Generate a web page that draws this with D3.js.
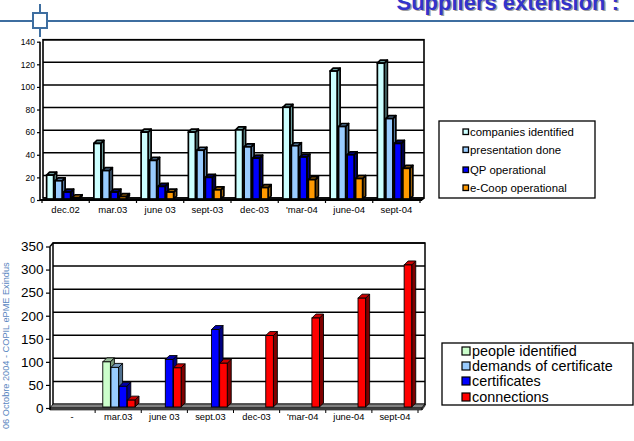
<!DOCTYPE html>
<html><head><meta charset="utf-8">
<script src="https://cdn.jsdelivr.net/npm/d3@7"></script>
<style>body{margin:0;background:#fff}svg{display:block}</style>
</head><body>
<script>
// ---------- DATA ----------
const topCategories = ["dec.02","mar.03","june 03","sept-03","dec-03","'mar-04","june-04","sept-04"];
const topSeriesNames = ["companies identified","presentation done","QP operational","e-Coop operational"];
const companiesIdentified = [22,50,60,60,62,82,114,121];
const presentationDone    = [17,26,35,44,47,48,65,72];
const qpOperational       = [7,7,12,20,37,38,40,50];
const eCoopOperational    = [2,3,7,9,11,18,19,28];
const topTicks = [0,20,40,60,80,100,120,140];

const botCategories = ["-","mar.03","june 03","sept.03","dec-03","'mar-04","june-04","sept-04"];
const botSeriesNames = ["people identified","demands of certificate","certificates","connections"];
const peopleIdentified     = [null,100,null,null,null,null,null,null];
const demandsOfCertificate = [null,88,null,null,null,null,null,null];
const certificates         = [null,47,105,170,null,null,null,null];
const connections          = [null,17,87,97,157,195,238,310];
const botTicks = [0,50,100,150,200,250,300,350];

const titleText = "Suppliers extension :";
const sideText = "06 Octobre 2004 - COPIL ePME Exindus";

// ---------- STYLE ----------
const FONT = "'Liberation Sans', Arial, sans-serif";
const topFront = ["#ccffff","#99ccff","#0000ff","#ff9900"];
const topSide  = ["#6a9a9a","#55779a","#00007a","#99600a"];
const botFront = ["#ccffcc","#99ccff","#0000ff","#ff0000"];
const botSide  = ["#7a9a7a","#50708f","#000080","#800000"];
const botTop   = ["#99bb99","#7799bb","#0000aa","#cc0000"];

const svg = d3.select("body").append("svg").attr("width",634).attr("height",441);

// ---------- HEADER ----------
svg.append("line").attr("x1",0).attr("x2",634).attr("y1",21).attr("y2",21)
  .attr("stroke","#3e6ea0").attr("stroke-width",2);
svg.append("line").attr("x1",40).attr("x2",40).attr("y1",4).attr("y2",37)
  .attr("stroke","#3e6ea0").attr("stroke-width",2);
svg.append("rect").attr("x",33).attr("y",13).attr("width",14).attr("height",15)
  .attr("fill","#fff").attr("stroke","#3e6ea0").attr("stroke-width",2);
svg.append("text").attr("x",619).attr("y",9.5).attr("text-anchor","end")
  .attr("font-family",FONT).attr("font-weight","bold").attr("font-size",22)
  .attr("fill","#a0a0a0").attr("transform","translate(1.5,1.5)").text(titleText);
svg.append("text").attr("x",619).attr("y",9.5).attr("text-anchor","end")
  .attr("font-family",FONT).attr("font-weight","bold").attr("font-size",22)
  .attr("fill","#3333cc").text(titleText);

// side text
svg.append("text").attr("transform","translate(8.5,429) rotate(-90)")
  .attr("font-family",FONT).attr("font-size",9.2).attr("fill","#5a86c0").text(sideText);

function bar3d(g, x, w, yT, yB, d, front, side, top, sw){
  g.append("polygon").attr("points",[[x+w,yT],[x+w+d,yT-d],[x+w+d,yB-d],[x+w,yB]].join(" "))
    .attr("fill",side).attr("stroke","#000").attr("stroke-width",sw).attr("stroke-linejoin","round");
  g.append("polygon").attr("points",[[x,yT],[x+d,yT-d],[x+w+d,yT-d],[x+w,yT]].join(" "))
    .attr("fill",top).attr("stroke","#000").attr("stroke-width",sw).attr("stroke-linejoin","round");
  g.append("rect").attr("x",x).attr("y",yT).attr("width",w).attr("height",Math.max(0,yB-yT))
    .attr("fill",front).attr("stroke","#000").attr("stroke-width",sw);
}

// ---------- TOP CHART ----------
{
  const g = svg.append("g");
  const y = d3.scaleLinear().domain([0,140]).range([200,41.7]);
  const x = d3.scaleBand().domain(topCategories).range([42,420]);
  const d = 3;
  g.append("rect").attr("x",43).attr("y",y(140)-2).attr("width",381).attr("height",y(0)-y(140))
    .attr("fill","#fff").attr("stroke","#000").attr("stroke-width",1.6);
  topTicks.forEach(t=>{
    g.append("line").attr("x1",43).attr("x2",424).attr("y1",y(t)-2).attr("y2",y(t)-2)
      .attr("stroke","#000").attr("stroke-width",1.5);
  });
  g.append("line").attr("x1",40).attr("x2",40).attr("y1",y(140)).attr("y2",y(0))
    .attr("stroke","#000").attr("stroke-width",1.6);
  const ax = g.append("g").attr("transform","translate(40,0)")
    .call(d3.axisLeft(y).tickValues(topTicks).tickSize(3).tickPadding(2));
  ax.select(".domain").remove();
  ax.selectAll("line").attr("stroke","#000").attr("stroke-width",1.2);
  ax.selectAll("text").attr("font-family",FONT).attr("font-size",8.5).attr("fill","#000");
  g.append("line").attr("x1",40).attr("x2",422).attr("y1",y(0)).attr("y2",y(0))
    .attr("stroke","#000").attr("stroke-width",1.8);
  g.append("line").attr("x1",422).attr("x2",424).attr("y1",y(0)).attr("y2",y(0)-2)
    .attr("stroke","#000").attr("stroke-width",1.5);
  x.domain().forEach(c=>{
    g.append("line").attr("x1",x(c)).attr("x2",x(c)).attr("y1",y(0)).attr("y2",y(0)+3)
      .attr("stroke","#000").attr("stroke-width",1.2);
  });
  g.append("line").attr("x1",420).attr("x2",420).attr("y1",y(0)).attr("y2",y(0)+3).attr("stroke","#000").attr("stroke-width",1.2);
  const axb = g.append("g").attr("transform",`translate(0,${y(0)})`)
    .call(d3.axisBottom(x).tickSize(0).tickPadding(6.5));
  axb.select(".domain").remove();
  axb.selectAll("text").attr("font-family",FONT).attr("font-size",9.5).attr("fill","#000");
  const series = [companiesIdentified,presentationDone,qpOperational,eCoopOperational];
  const step = x.bandwidth()*0.18, w = step-1.5;
  topCategories.forEach((c,i)=>{
    const x0 = x(c) + x.bandwidth()/2 - 2*step - 2;
    series.forEach((s,k)=>{
      if (s[i]==null) return;
      bar3d(g, x0+k*step, w, y(s[i]), y(0)-1, d, topFront[k], topSide[k], topSide[k], 1.7);
    });
  });
  const lg = svg.append("g");
  lg.append("rect").attr("x",439).attr("y",121).attr("width",156).attr("height",77)
    .attr("fill","#fff").attr("stroke","#000").attr("stroke-width",1.3);
  const ly = [132,150,170,188];
  topSeriesNames.forEach((n,k)=>{
    lg.append("rect").attr("x",463).attr("y",ly[k]-3).attr("width",5.5).attr("height",5.5)
      .attr("fill",topFront[k]).attr("stroke","#000").attr("stroke-width",1.3);
    lg.append("text").attr("x",470).attr("y",ly[k]+4).attr("font-family",FONT)
      .attr("font-size",11.4).attr("fill","#000").text(n);
  });
}

// ---------- BOTTOM CHART ----------
{
  const g = svg.append("g");
  const y = d3.scaleLinear().domain([0,350]).range([408,246.5]);
  const x = d3.scaleBand().domain(botCategories).range([49,418]);
  const d = 4;
  g.append("rect").attr("x",53).attr("y",y(350)-3.5).attr("width",372).attr("height",y(0)-y(350))
    .attr("fill","#fff").attr("stroke","#000").attr("stroke-width",1.5);
  botTicks.forEach(t=>{
    g.append("line").attr("x1",53).attr("x2",425).attr("y1",y(t)-3.5).attr("y2",y(t)-3.5)
      .attr("stroke","#000").attr("stroke-width",1.5);
  });
  g.append("polygon").attr("points",[[50,408],[53,404],[425,404],[422,408]].join(" "))
    .attr("fill","#808080").attr("stroke","#000").attr("stroke-width",0.8);
  g.append("polygon").attr("points",[[50,408],[422,408],[422,410],[50,410]].join(" "))
    .attr("fill","#555").attr("stroke","#000").attr("stroke-width",0.6);
  g.append("polygon").attr("points",[[422,408],[425,404],[425,406],[422,410]].join(" "))
    .attr("fill","#555").attr("stroke","#000").attr("stroke-width",0.6);
  g.append("line").attr("x1",50).attr("x2",50).attr("y1",y(350)).attr("y2",410)
    .attr("stroke","#000").attr("stroke-width",1.5);
  g.append("line").attr("x1",50).attr("x2",53).attr("y1",y(350)).attr("y2",y(350)-3.5)
    .attr("stroke","#000").attr("stroke-width",1.5);
  const ax = g.append("g").attr("transform","translate(50,0)")
    .call(d3.axisLeft(y).tickValues(botTicks).tickSize(4).tickPadding(2.5));
  ax.select(".domain").remove();
  ax.selectAll("line").attr("stroke","#000").attr("stroke-width",1.2);
  ax.selectAll("text").attr("font-family",FONT).attr("font-size",13.5).attr("fill","#000");
  x.domain().forEach(c=>{
    g.append("line").attr("x1",x(c)+x.bandwidth()).attr("x2",x(c)+x.bandwidth())
      .attr("y1",410).attr("y2",413).attr("stroke","#000").attr("stroke-width",1);
  });
  const axb = g.append("g").attr("transform","translate(0,410)")
    .call(d3.axisBottom(x).tickSize(0).tickPadding(3));
  axb.select(".domain").remove();
  axb.selectAll("text").attr("font-family",FONT).attr("font-size",9.3).attr("fill","#000");
  const series = [peopleIdentified,demandsOfCertificate,certificates,connections];
  const step = 8.2, w = 7.6;
  botCategories.forEach((c,i)=>{
    const x0 = x(c) + x.bandwidth()/2 - 2*step + 1;
    series.forEach((s,k)=>{
      if (s[i]==null) return;
      bar3d(g, x0+k*step, w, y(s[i]), 407, d, botFront[k], botSide[k], botTop[k], 0.9);
    });
  });
  const lg = svg.append("g");
  lg.append("rect").attr("x",442).attr("y",343).attr("width",191).attr("height",62)
    .attr("fill","#fff").attr("stroke","#000").attr("stroke-width",1.3);
  const ly = [351,366,381,397];
  botSeriesNames.forEach((n,k)=>{
    lg.append("rect").attr("x",462).attr("y",ly[k]-4).attr("width",8).attr("height",8)
      .attr("fill",botFront[k]).attr("stroke","#000").attr("stroke-width",1.2);
    lg.append("text").attr("x",472).attr("y",ly[k]+5).attr("font-family",FONT)
      .attr("font-size",14.4).attr("fill","#000").text(n);
  });
}
</script>
</body></html>
